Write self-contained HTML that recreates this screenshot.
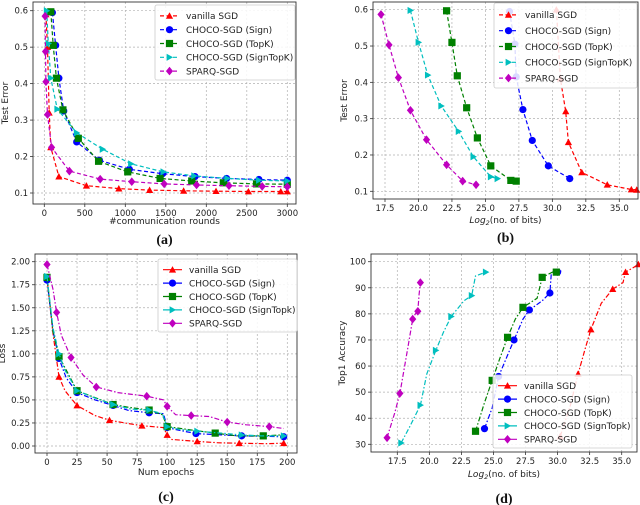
<!DOCTYPE html>
<html><head><meta charset="utf-8"><style>
body{margin:0;background:#fff;}
svg{display:block;font-family:"DejaVu Sans","Liberation Sans",sans-serif;}
</style></head><body>
<svg id="fig" width="640" height="505" viewBox="0 0 640 505"></svg>
<script>
const seriesNames=["vanilla SGD","CHOCO-SGD (Sign)","CHOCO-SGD (TopK)","CHOCO-SGD (SignTopK)","SPARQ-SGD"];
const seriesNamesCD=["vanilla SGD","CHOCO-SGD (Sign)","CHOCO-SGD (TopK)","CHOCO-SGD (SignTopk)","SPARQ-SGD"];
// Panel a: rounds vs test error
const aVanX=[20,40,60,80,180,520,920,1300,1720,2120,2520,2920,3000];
const aVanY=[0.59,0.50,0.32,0.225,0.145,0.12,0.112,0.108,0.106,0.105,0.104,0.104,0.104];
const aSignX=[100,140,180,240,400,680,1050,1460,1860,2250,2650,3000];
const aSignY=[0.595,0.505,0.415,0.325,0.24,0.19,0.165,0.153,0.145,0.14,0.137,0.135];
const aTopX=[80,110,150,230,420,670,1030,1430,1820,2210,2620,3000];
const aTopY=[0.597,0.505,0.415,0.328,0.25,0.187,0.158,0.14,0.133,0.128,0.125,0.124];
const aSTX=[30,50,80,160,400,720,1070,1470,1850,2260,2650,3000];
const aSTY=[0.6,0.51,0.415,0.33,0.265,0.22,0.18,0.158,0.147,0.14,0.135,0.133];
const aSpX=[10,15,20,40,90,310,690,1080,1480,1880,2280,2690,3000];
const aSpY=[0.585,0.488,0.405,0.315,0.225,0.16,0.138,0.131,0.125,0.122,0.12,0.118,0.117];
// Panel b: log2 bits vs test error
const bVanX=[30.3,30.6,31.0,31.2,32.2,34.1,35.9,36.3];
const bVanY=[0.6,0.41,0.32,0.235,0.152,0.118,0.105,0.104];
const bSignX=[26.8,27.2,27.3,27.8,28.5,29.7,31.3];
const bSignY=[0.595,0.505,0.415,0.325,0.24,0.17,0.135];
const bTopX=[22.1,22.5,22.9,23.6,24.4,25.4,26.9,27.3];
const bTopY=[0.597,0.51,0.418,0.33,0.247,0.17,0.13,0.128];
const bSTX=[19.4,20.0,20.7,21.7,23.0,24.1,25.4,25.9];
const bSTY=[0.598,0.51,0.42,0.335,0.265,0.195,0.14,0.135];
const bSpX=[17.2,17.8,18.5,19.4,20.6,22.1,23.3,24.3];
const bSpY=[0.587,0.503,0.413,0.323,0.242,0.173,0.128,0.118];
// Panel c: epochs vs loss
const cVanX=[0,5,10,15,25,40,52,65,79,97,100,104,125,143,160,182,197];
const cVanY=[1.82,1.22,0.75,0.6,0.44,0.33,0.28,0.25,0.22,0.2,0.12,0.07,0.05,0.035,0.03,0.025,0.03];
const cSignX=[0,5,10,16,25,40,55,68,85,97,100,110,124,145,162,180,197];
const cSignY=[1.8,1.25,0.95,0.74,0.58,0.5,0.44,0.385,0.36,0.35,0.2,0.17,0.135,0.12,0.11,0.105,0.1];
const cTopX=[0,5,10,17,25,39,55,68,85,96,100,122,140,158,180,195];
const cTopY=[1.83,1.24,0.97,0.8,0.6,0.53,0.45,0.42,0.39,0.34,0.21,0.17,0.14,0.11,0.11,0.12];
const cSTX=[0,5,10,15,25,40,55,70,85,96,100,110,125,145,162,178,197];
const cSTY=[1.84,1.28,1.0,0.82,0.6,0.52,0.45,0.4,0.39,0.35,0.21,0.18,0.16,0.14,0.12,0.11,0.11];
const cSpX=[0,5,8,12,20,30,41,59,83,97,100,107,120,135,150,166,185,197];
const cSpY=[1.97,1.7,1.45,1.2,0.96,0.77,0.64,0.58,0.54,0.5,0.43,0.34,0.33,0.32,0.26,0.23,0.21,0.19];
// Panel d: log2 bits vs top1 accuracy
const dVanX=[30.2,31.0,31.6,32.2,32.6,33.4,34.3,35.1,35.3,36.0,36.3];
const dVanY=[33,45,57,67.5,74,84,89.5,92,96,98,99];
const dSignX=[24.3,24.9,25.4,26.0,26.6,27.3,27.8,28.8,29.4,29.5,30.0,30.3];
const dSignY=[36,44,56,63,70,78,81.5,85,88,95,96,96.5];
const dTopX=[23.6,24.3,24.9,25.5,26.1,26.7,27.3,28.4,28.8,29.6,29.9];
const dTopY=[35,46,54.5,63,71,78,82.5,86,94,96,96];
const dSTX=[17.8,18.5,19.3,19.8,20.5,21.1,21.7,22.7,23.3,23.6,24.4];
const dSTY=[30.5,37,45,57,66,73,79,85,87,94.5,96];
const dSpX=[16.7,17.3,17.7,18.3,18.7,18.9,19.1,19.2,19.3];
const dSpY=[32.5,42,49.5,66.5,78,80,81,87.5,92];

const aXTicks=[0,500,1000,1500,2000,2500,3000], aYTicks=[0.1,0.2,0.3,0.4,0.5,0.6];
const bXTicks=[17.5,20,22.5,25,27.5,30,32.5,35], bYTicks=[0.1,0.2,0.3,0.4,0.5,0.6];
const cXTicks=[0,25,50,75,100,125,150,175,200], cYTicks=[0,0.25,0.5,0.75,1,1.25,1.5,1.75,2];
const dXTicks=[17.5,20,22.5,25,27.5,30,32.5,35], dYTicks=[30,40,50,60,70,80,90,100];

const colors=["#ff0000","#0000ff","#008000","#00bfbf","#bf00bf"];
const markers=["tri","circ","sq","tri-r","diamond"];
const NS="http://www.w3.org/2000/svg";
const svg=document.getElementById("fig");
function mk(tag,attrs,parent){const e=document.createElementNS(NS,tag);for(const k in attrs)e.setAttribute(k,attrs[k]);(parent||svg).appendChild(e);return e;}
function marker(g,type,x,y,c){
  const r=3.6;let e;
  if(type==="circ")e=mk("circle",{cx:x,cy:y,r:r,fill:c},g);
  else if(type==="sq")e=mk("rect",{x:x-r,y:y-r,width:2*r,height:2*r,fill:c},g);
  else if(type==="tri")e=mk("polygon",{points:`${x},${y-r} ${x-r},${y+r*0.8} ${x+r},${y+r*0.8}`,fill:c},g);
  else if(type==="tri-r")e=mk("polygon",{points:`${x+r},${y} ${x-r*0.8},${y-r} ${x-r*0.8},${y+r}`,fill:c},g);
  else e=mk("polygon",{points:`${x},${y-r*1.2} ${x+r},${y} ${x},${y+r*1.2} ${x-r},${y}`,fill:c},g);
  
  
}
function panel(p){
  const g=mk("g",{});
  
  
  const xs=v=>p.px0+(v-p.vx0)/(p.vx1-p.vx0)*(p.px1-p.px0);
  const ys=v=>p.py0+(v-p.vy0)/(p.vy1-p.vy0)*(p.py1-p.py0);
  mk("rect",{x:p.box[0],y:p.box[1],width:p.box[2]-p.box[0],height:p.box[3]-p.box[1],fill:"#fff"},g);
  p.xt.forEach(t=>{const x=xs(t);
    mk("line",{x1:x,x2:x,y1:p.box[1],y2:p.box[3],stroke:"#b0b0b0","stroke-width":0.7,"stroke-dasharray":"2,2"},g);
    mk("line",{x1:x,x2:x,y1:p.box[3],y2:p.box[3]+3,stroke:"#333","stroke-width":0.8},g);
    const t2=mk("text",{x:x,y:p.box[3]+12,"font-size":8.5,"text-anchor":"middle",fill:"#222"},g);t2.textContent=p.xf(t);
    });
  p.yt.forEach(t=>{const y=ys(t);
    mk("line",{x1:p.box[0],x2:p.box[2],y1:y,y2:y,stroke:"#b0b0b0","stroke-width":0.7,"stroke-dasharray":"2,2"},g);
    mk("line",{x1:p.box[0]-3,x2:p.box[0],y1:y,y2:y,stroke:"#333","stroke-width":0.8},g);
    const t2=mk("text",{x:p.box[0]-5,y:y+3,"font-size":8.5,"text-anchor":"end",fill:"#222"},g);t2.textContent=p.yf(t);
    });
  p.series.forEach((s,i)=>{
    const sg=mk("g",{},g);
    
    
    const pts=s[0].map((v,j)=>xs(v).toFixed(1)+","+ys(s[1][j]).toFixed(1)).join(" ");
    mk("polyline",{points:pts,fill:"none",stroke:colors[i],"stroke-width":1.2,"stroke-dasharray":p.dash},sg);
    s[0].forEach((v,j)=>{ if(!p.sparse || j%2===0) marker(sg,markers[i],xs(v),ys(s[1][j]),colors[i]);});
  });
  mk("rect",{x:p.box[0],y:p.box[1],width:p.box[2]-p.box[0],height:p.box[3]-p.box[1],fill:"none",stroke:"#333","stroke-width":0.9},g);
  const L=p.leg;const lg=mk("g",{},g);
  
  mk("rect",{x:L[0],y:L[1],width:L[2]-L[0],height:L[3]-L[1],fill:"#fff","fill-opacity":0.85,stroke:"#ccc","stroke-width":0.8,rx:2},lg);
  const rh=(L[3]-L[1]-6)/5;
  p.names.forEach((n,i)=>{const y=L[1]+4+rh*(i+0.5);
    const le=mk("g",{},lg);
    mk("line",{x1:L[0]+5,x2:L[0]+24,y1:y,y2:y,stroke:colors[i],"stroke-width":1.2,"stroke-dasharray":p.legDash},le);
    marker(le,markers[i],L[0]+14.5,y,colors[i]);
    const t=mk("text",{x:L[0]+31,y:y+3.3,"font-size":9,fill:"#222"},le);t.textContent=n;});
  const xl=mk("text",{x:(p.box[0]+p.box[2])/2,y:p.xly,"font-size":9,"text-anchor":"middle",fill:"#222"},g);
  if(p.xlog){const a=mk("tspan",{"font-style":"italic"},xl);a.textContent="Log";const b=mk("tspan",{"font-size":6.5,dy:2,"font-style":"italic"},xl);b.textContent="2";const c=mk("tspan",{dy:-2},xl);c.textContent="(no. of bits)";}
  else xl.textContent=p.xlabel;
  
  const yl=mk("text",{x:p.ylx,y:(p.box[1]+p.box[3])/2,"font-size":9,"text-anchor":"middle",fill:"#222",transform:`rotate(-90 ${p.ylx} ${(p.box[1]+p.box[3])/2})`},g);
  yl.textContent=p.ylabel;
  const cap=mk("text",{x:(p.box[0]+p.box[2])/2,y:p.capy,"font-size":14,"font-weight":"bold","text-anchor":"middle","font-family":"Liberation Serif,serif",fill:"#111"},g);
  cap.textContent=p.cap;
}
const f1=v=>v.toFixed(1), f0=v=>String(v), f2=v=>v.toFixed(2);
panel({name:"panel-a",box:[33,2,296,204],px0:44.3,px1:287.3,vx0:0,vx1:3000,py0:193,py1:10.7,vy0:0.1,vy1:0.6,
  xt:aXTicks,yt:aYTicks,xf:f0,yf:f1,dash:"4,2.5",legDash:"4,2.5",sparse:false,
  series:[[aVanX,aVanY],[aSignX,aSignY],[aTopX,aTopY],[aSTX,aSTY],[aSpX,aSpY]],names:seriesNames,
  leg:[155,5,295,80],xly:224,xlabel:"#communication rounds",ylx:8,ylabel:"Test Error",capy:244,cap:"(a)"});
panel({name:"panel-b",box:[373,2,638,199],px0:385,px1:619.3,vx0:17.5,vx1:35,py0:191.3,py1:9.7,vy0:0.1,vy1:0.6,
  xt:bXTicks,yt:bYTicks,xf:f1,yf:f1,dash:"4,2.5",legDash:"4,2.5",sparse:false,
  series:[[bVanX,bVanY],[bSignX,bSignY],[bTopX,bTopY],[bSTX,bSTY],[bSpX,bSpY]],names:seriesNames,
  leg:[494,3,637,88],xly:223,xlog:true,ylx:347,ylabel:"Test Error",capy:242,cap:"(b)"});
panel({name:"panel-c",box:[35,254,297,453],px0:47,px1:287.3,vx0:0,vx1:200,py0:446,py1:261.7,vy0:0,vy1:2,
  xt:cXTicks,yt:cYTicks,xf:f0,yf:f2,dash:"5,2,1.5,2",legDash:"none",sparse:true,
  series:[[cVanX,cVanY],[cSignX,cSignY],[cTopX,cTopY],[cSTX,cSTY],[cSpX,cSpY]],names:seriesNamesCD,
  leg:[158,259,297,332],xly:475,xlabel:"Num epochs",ylx:5,ylabel:"Loss",capy:501,cap:"(c)"});
panel({name:"panel-d",box:[371,254,637,452],px0:397.3,px1:621.7,vx0:17.5,vx1:35,py0:444.3,py1:261.7,vy0:30,vy1:100,
  xt:dXTicks,yt:dYTicks,xf:f1,yf:f0,dash:"5,2,1.5,2",legDash:"none",sparse:true,
  series:[[dVanX,dVanY],[dSignX,dSignY],[dTopX,dTopY],[dSTX,dSTY],[dSpX,dSpY]],names:seriesNamesCD,
  leg:[493,375,632,448],xly:477,xlog:true,ylx:345,ylabel:"Top1 Accuracy",capy:503,cap:"(d)"});
</script>
</body></html>
